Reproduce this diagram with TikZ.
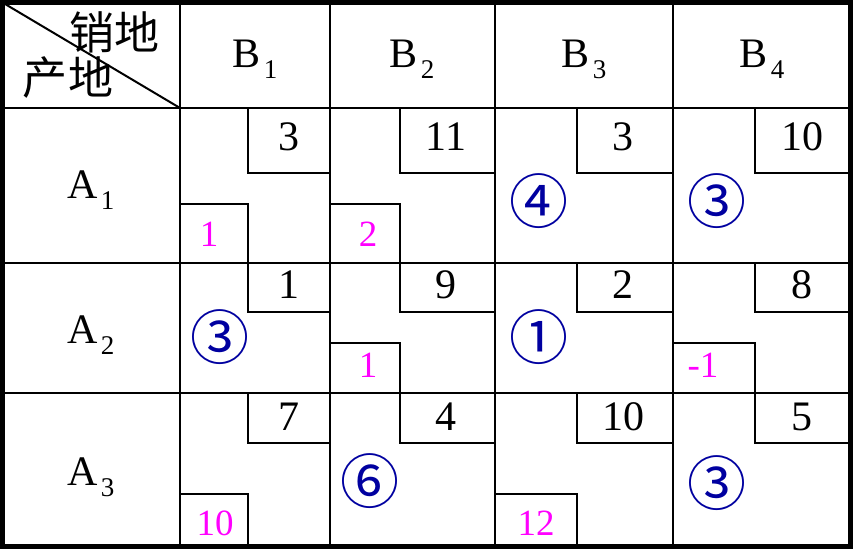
\documentclass[tikz,border=0pt]{standalone}
\usepackage{fontspec}
\setmainfont{Liberation Serif}
\newfontfamily\cjk{Noto Sans CJK SC}
\definecolor{navyblue}{RGB}{0,0,160}
\definecolor{pinkish}{RGB}{255,0,255}
\newcommand\subidx[1]{\kern3pt\raisebox{-11pt}{\fontsize{27}{27}\selectfont #1}}
\begin{document}
\begin{tikzpicture}[x=1pt,y=-1pt,
  gridline/.style={line width=2pt},
  outerline/.style={line width=5pt},
  label/.style={anchor=base,inner sep=0pt,font=\fontsize{42}{42}\selectfont},
  costnum/.style={anchor=base,inner sep=0pt,font=\fontsize{42}{42}\selectfont},
  pinknum/.style={anchor=base,inner sep=0pt,text=pinkish,font=\fontsize{37}{37}\selectfont},
  circnum/.style={anchor=center,inner sep=0pt,text=navyblue,font=\cjk\fontsize{59}{59}\selectfont},
  headtext/.style={anchor=base,inner sep=0pt,font=\cjk\fontsize{45}{45}\selectfont}]
\useasboundingbox (0,0) rectangle (856,556);
\fill[white] (0,0) rectangle (856,556);
% grid lines
\draw[gridline] (180,2.5) -- (180,546.5);
\draw[gridline] (330,2.5) -- (330,546.5);
\draw[gridline] (495,2.5) -- (495,546.5);
\draw[gridline] (673,2.5) -- (673,546.5);
\draw[gridline] (2.5,108) -- (850,108);
\draw[gridline] (2.5,262.5) -- (850,262.5);
\draw[gridline] (2.5,393) -- (850,393);
\draw[gridline] (2.5,2.5) -- (180,108);
% cost boxes (top-right of each cell)
\foreach \k/\c in {248/330, 399.5/495, 577/673, 755/850}{
  \draw[gridline] (\k,108) -- (\k,173) -- (\c,173);
  \draw[gridline] (\k,262.5) -- (\k,312) -- (\c,312);
  \draw[gridline] (\k,393) -- (\k,443) -- (\c,443);
}
% pink boxes (bottom-left)
\draw[gridline] (180,203.5) -- (248,203.5) -- (248,262.5);
\draw[gridline] (330,203.5) -- (399.5,203.5) -- (399.5,262.5);
\draw[gridline] (330,343) -- (399.5,343) -- (399.5,393);
\draw[gridline] (673,343) -- (755,343) -- (755,393);
\draw[gridline] (180,493.5) -- (248,493.5) -- (248,546.5);
\draw[gridline] (495,493.5) -- (577,493.5) -- (577,546.5);
% outer border
\draw[outerline] (2.5,2.5) rectangle (850,546.5);
% header
\node[headtext] (hx) at (114,49.5) {销地};
\node[headtext] (hy) at (68,94.5) {产地};
\node[label] (b1) at (255,68) {B\subidx{1}};
\node[label] (b2) at (412,68) {B\subidx{2}};
\node[label] (b3) at (584,68) {B\subidx{3}};
\node[label] (b4) at (762,68) {B\subidx{4}};
\node[label] (a1) at (91,198) {A\subidx{1}};
\node[label] (a2) at (91,343) {A\subidx{2}};
\node[label] (a3) at (91,485) {A\subidx{3}};
% costs
\node[costnum] (c11) at (289,151) {3};
\node[costnum] (c12) at (446,151) {11};
\node[costnum] (c13) at (623,151) {3};
\node[costnum] (c14) at (802,151) {10};
\node[costnum] (c21) at (289,298) {1};
\node[costnum] (c22) at (446,298) {9};
\node[costnum] (c23) at (623,298) {2};
\node[costnum] (c24) at (802,298) {8};
\node[costnum] (c31) at (289,430) {7};
\node[costnum] (c32) at (446,430) {4};
\node[costnum] (c33) at (623,430) {10};
\node[costnum] (c34) at (802,430) {5};
% pink numbers
\node[pinknum] (p11) at (209,246.5) {1};
\node[pinknum] (p12) at (368,246.5) {2};
\node[pinknum] (p22) at (368,377) {1};
\node[pinknum] (p24) at (703,377) {-1};
\node[pinknum] (p31) at (215,535) {10};
\node[pinknum] (p33) at (536,535) {12};
% circled numbers
\node[circnum] (q13) at (539,201) {④};
\node[circnum] (q14) at (717,201) {③};
\node[circnum] (q21) at (220,337.5) {③};
\node[circnum] (q23) at (539,337) {①};
\node[circnum] (q32) at (370,481) {⑥};
\node[circnum] (q34) at (717,483) {③};
\end{tikzpicture}
\end{document}
